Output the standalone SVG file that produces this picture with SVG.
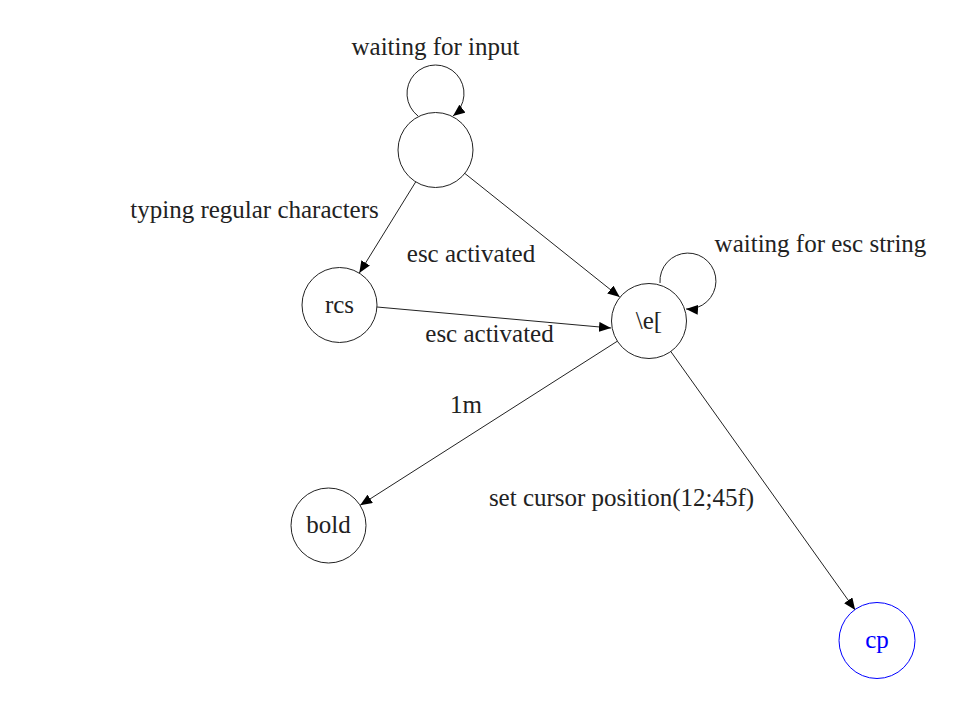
<svg xmlns="http://www.w3.org/2000/svg" width="960" height="707" viewBox="0 0 960 707" font-family="'Liberation Serif', serif">
<style>
text{font-family:'Liberation Serif',serif;font-size:25px;fill:#222;text-anchor:middle}
.n circle{fill:#fff;stroke:#222;stroke-width:1}
.e{fill:none;stroke:#222;stroke-width:1;marker-end:url(#a)}
#cp circle{stroke:#0000ff}
#cp text{fill:#0000ff}
</style>
<defs>
<marker id="a" markerWidth="12" markerHeight="10" refX="12" refY="5" orient="auto" markerUnits="userSpaceOnUse">
<path d="M0,0 L12,5 L0,10 Z" fill="#000"/>
</marker>
</defs>
<rect width="960" height="707" fill="#fff"/>
<g id="edges">
<path class="e" d="M418,116 A28.5,28.5 0 1 1 453,116"/>
<path class="e" d="M415.7,181.9 L359.3,273.1"/>
<path class="e" d="M464.8,173.4 L619.7,297"/>
<path class="e" d="M377,307 L611,328"/>
<path class="e" d="M660,283 A28,28 0 1 1 686,309"/>
<path class="e" d="M617.8,340.9 L360.1,505.3"/>
<path class="e" d="M670.5,351.1 L855.2,610"/>
</g>
<g id="labels">
<text x="435.5" y="55">waiting for input</text>
<text x="254.5" y="218">typing regular characters</text>
<text x="471" y="262">esc activated</text>
<text x="489.5" y="342">esc activated</text>
<text x="820.5" y="252">waiting for esc string</text>
<text x="466" y="413">1m</text>
<text x="621.5" y="506">set cursor position(12;45f)</text>
</g>
<g id="start" class="n"><circle cx="435.5" cy="150" r="37.5"/></g>
<g id="rcs" class="n"><circle cx="339.5" cy="305" r="37.5"/><text x="339.5" y="313">rcs</text></g>
<g id="esc" class="n"><circle cx="649" cy="321" r="37.5"/><text x="649" y="329">\e[</text></g>
<g id="bold" class="n"><circle cx="328.5" cy="525.5" r="37.5"/><text x="328.5" y="533">bold</text></g>
<g id="cp" class="n"><circle cx="877" cy="640.5" r="38"/><text x="877" y="648">cp</text></g>
</svg>
